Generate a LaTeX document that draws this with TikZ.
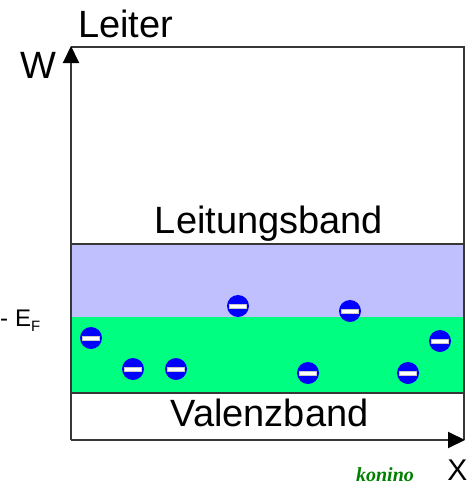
\documentclass[tikz,border=0pt]{standalone}
\usepackage{fontspec}
\setmainfont{Liberation Sans}
\newfontfamily\sigfont{Liberation Serif}
\usetikzlibrary{arrows.meta}
\definecolor{cband}{RGB}{192,192,255}
\definecolor{vband}{RGB}{0,255,128}
\definecolor{eblue}{RGB}{0,0,255}
\definecolor{sig}{RGB}{0,128,0}
\definecolor{axisc}{RGB}{55,55,55}
\begin{document}
\begin{tikzpicture}[x=1pt,y=-1pt,
  lbl/.style={inner sep=0pt,font=\fontsize{38}{38}\selectfont},
  frame/.style={draw=axisc,line width=2pt},
  axarrow/.style={-{Triangle[length=17pt,width=16pt,color=black]}},
  electron/.style={circle,fill=eblue,minimum size=22pt,inner sep=0pt,
    path picture={\fill[white,draw=gray!45,line width=0.6pt]
      ([xshift=-8.5pt,yshift=-2pt]path picture bounding box.center) rectangle
      ([xshift=8.5pt,yshift=2pt]path picture bounding box.center);}}]
\useasboundingbox (0,0) rectangle (471,491);
% bands
\fill[cband] (71,244) rectangle (464,317);
\fill[vband] (71,317) rectangle (464,393);
\coordinate (cbl) at (71,244);
\coordinate (cbr) at (464,244);
\coordinate (vbl) at (71,393);
\coordinate (vbr) at (464,393);
\draw[frame] (cbl) -- (cbr);
\draw[frame] (vbl) -- (vbr);
% frame and axes
\coordinate (O) at (71,440);
\coordinate (Wtip) at (71,46);
\coordinate (TL) at (71,47);
\coordinate (TR) at (464,47);
\coordinate (BR) at (464,440);
\coordinate (Xtip) at (465,440);
\draw[frame] (TL) -- (TR) -- (BR);
\draw[frame,axarrow] (O) -- (Wtip);
\draw[frame,axarrow] (O) -- (Xtip);
% electrons
\node[electron] (e1) at (91,338) {};
\node[electron] (e2) at (133,369) {};
\node[electron] (e3) at (176,369) {};
\node[electron] (e4) at (238,306) {};
\node[electron] (e5) at (308,373) {};
\node[electron] (e6) at (350,311) {};
\node[electron] (e7) at (408,373) {};
\node[electron] (e8) at (440,341) {};
% labels
\node[lbl,anchor=base west] (leiter) at (78,37) {Leiter};
\node[lbl,anchor=base east] (w) at (57,78) {W};
\node[lbl,anchor=base] (lb) at (269,233) {Leitungsband};
\node[lbl,anchor=base] (vb) at (269.5,426) {Valenzband};
\node[inner sep=0pt,anchor=base,font=\fontsize{30}{30}\selectfont] (xl) at (457.5,480) {X};
\node[inner sep=0pt,anchor=base west,font=\fontsize{24}{24}\selectfont] (ef) at (0,326)
  {-\hspace{7pt}E\raisebox{-5pt}{\fontsize{15}{15}\selectfont F}};
\node[inner sep=0pt,anchor=base,text=sig,font=\sigfont\itshape\bfseries\fontsize{20}{20}\selectfont] (sg) at (385,481) {konino};
\end{tikzpicture}
\end{document}
